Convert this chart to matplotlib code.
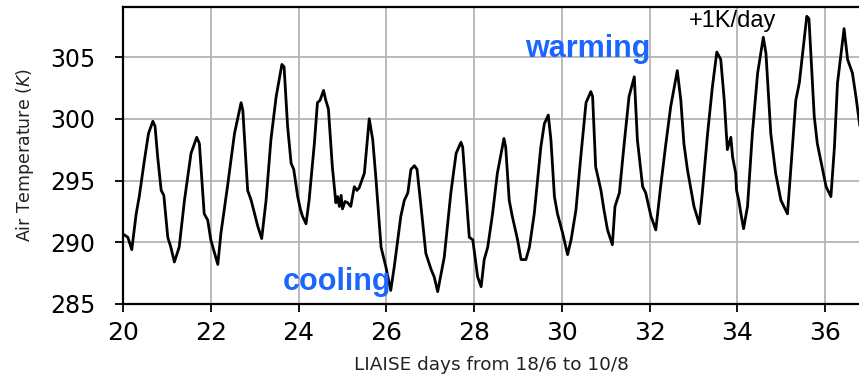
import matplotlib
matplotlib.use("Agg")
import matplotlib.pyplot as plt

# ---- data ----
days = [20.03, 20.11, 20.20, 20.30, 20.37, 20.49, 20.58, 20.68, 20.73, 20.79, 20.87, 20.93,
        21.02, 21.09, 21.17, 21.28, 21.40, 21.55, 21.68, 21.74, 21.85, 21.93,
        22.00, 22.16, 22.23, 22.38, 22.54, 22.69, 22.73, 22.84, 22.92,
        23.07, 23.16, 23.26, 23.37, 23.49, 23.62, 23.67, 23.75, 23.83, 23.89, 23.98,
        24.04, 24.09, 24.17, 24.24, 24.36, 24.43, 24.49, 24.57, 24.62, 24.68, 24.77, 24.85, 24.89, 24.93, 24.97,
        25.00, 25.06, 25.12, 25.19, 25.27, 25.33, 25.38, 25.50, 25.56, 25.61, 25.69, 25.76, 25.88, 25.99,
        26.10, 26.18, 26.33, 26.41, 26.49, 26.56, 26.64, 26.70, 26.79, 26.90,
        27.02, 27.09, 27.17, 27.32, 27.47, 27.59, 27.70, 27.74, 27.89, 27.97,
        28.08, 28.16, 28.23, 28.31, 28.42, 28.53, 28.68, 28.72, 28.80, 28.87, 28.99,
        29.07, 29.18, 29.26, 29.37, 29.52, 29.60, 29.69, 29.75, 29.83, 29.90,
        30.02, 30.13, 30.21, 30.32, 30.43, 30.55, 30.66, 30.70, 30.77, 30.89, 30.96,
        31.04, 31.15, 31.21, 31.31, 31.42, 31.53, 31.65, 31.72, 31.84, 31.91,
        32.03, 32.14, 32.25, 32.37, 32.48, 32.63, 32.71, 32.78, 32.86,
        33.01, 33.13, 33.20, 33.32, 33.43, 33.53, 33.62, 33.70, 33.77, 33.85, 33.89, 33.96, 33.98,
        34.03, 34.08, 34.14, 34.23, 34.34, 34.46, 34.59, 34.65, 34.76, 34.87, 34.99,
        35.14, 35.22, 35.33, 35.41, 35.52, 35.58, 35.63, 35.75, 35.82, 35.94,
        36.02, 36.13, 36.21, 36.28, 36.43, 36.51, 36.62, 36.70, 36.79]
temps = [290.6, 290.4, 289.4, 292.3, 293.7, 296.7, 298.8, 299.8, 299.4, 296.9, 294.2, 293.8,
         290.4, 289.6, 288.4, 289.6, 293.4, 297.2, 298.5, 298.0, 292.3, 291.8,
         290.2, 288.2, 290.7, 294.5, 298.8, 301.3, 300.7, 294.2, 293.4,
         291.3, 290.3, 293.4, 298.3, 301.8, 304.4, 304.2, 299.4, 296.4, 295.9, 293.7,
         292.7, 292.1, 291.5, 293.4, 298.0, 301.3, 301.5, 302.3, 301.5, 300.8, 296.1, 293.2, 293.7, 292.9, 293.8,
         292.7, 293.3, 293.2, 292.9, 294.5, 294.2, 294.4, 295.6, 298.0, 300.0, 298.3, 295.3, 289.6, 288.0,
         286.1, 288.0, 292.1, 293.4, 294.0, 295.9, 296.2, 295.9, 292.9, 289.1,
         287.8, 287.2, 286.0, 288.8, 294.0, 297.2, 298.1, 297.7, 290.4, 290.2,
         287.2, 286.4, 288.6, 289.6, 292.3, 295.6, 298.4, 297.7, 293.4, 292.1, 290.2,
         288.6, 288.6, 289.6, 292.3, 297.7, 299.6, 300.3, 298.3, 293.7, 292.3,
         290.7, 289.0, 290.2, 292.6, 296.9, 301.3, 302.2, 301.8, 296.1, 294.2, 292.6,
         291.0, 289.8, 292.9, 294.0, 298.0, 301.8, 303.4, 298.3, 294.5, 294.0,
         292.1, 291.0, 294.5, 298.0, 301.0, 303.9, 301.5, 298.0, 295.9,
         292.9, 291.5, 294.0, 298.8, 302.6, 305.4, 304.8, 301.5, 297.5, 298.5, 296.9, 295.6, 294.2,
         293.4, 292.3, 291.1, 292.9, 298.8, 303.7, 306.6, 305.3, 298.8, 295.6, 293.4,
         292.3, 296.1, 301.5, 302.9, 306.4, 308.3, 308.1, 300.2, 298.0, 295.9,
         294.5, 293.7, 297.7, 302.9, 307.3, 304.8, 303.7, 301.8, 299.4]

x_ticks = [20, 22, 24, 26, 28, 30, 32, 34, 36]
y_ticks = [285, 290, 295, 300, 305]
x_label = "LIAISE days from 18/6 to 10/8"
y_label = r"Air Temperature ($K$)"

fig = plt.figure(figsize=(8.59, 3.81), dpi=100)
ax = fig.add_axes([0.1432, 0.2021, 0.8568, 0.7795])

ax.plot(days, temps, color="black", lw=2.0, zorder=3,
        solid_joinstyle="round", solid_capstyle="round")

ax.set_xlim(20, 36.77)
ax.set_ylim(285, 309.05)
ax.set_xticks(x_ticks)
ax.set_yticks(y_ticks)
ax.grid(True, color="#b4b4b4", lw=1.3)
ax.set_axisbelow(True)
for s in ["left", "top", "bottom"]:
    ax.spines[s].set_linewidth(1.6)
ax.spines["right"].set_visible(False)
ax.tick_params(axis="x", direction="out", length=6, width=1.3, labelsize=18, pad=6)
ax.tick_params(axis="y", direction="out", length=6, width=1.3, labelsize=17, pad=14)
ax.set_xlabel(x_label, fontsize=13.3, labelpad=8, color="#222222")
ax.set_ylabel(y_label, fontsize=12.5, labelpad=10, color="#222222")

fig.text(588 / 859, 1 - 57 / 381, "warming", family="Liberation Sans", weight="bold",
         fontsize=22, color="#1a66ff", ha="center", va="baseline")
fig.text(337 / 859, 1 - 290 / 381, "cooling", family="Liberation Sans", weight="bold",
         fontsize=22, color="#1a66ff", ha="center", va="baseline")
fig.text(733 / 859, 1 - 27 / 381, "+1K/day", family="Liberation Sans",
         fontsize=17, color="black", ha="center", va="baseline")

fig.savefig("out.png", dpi=100)
